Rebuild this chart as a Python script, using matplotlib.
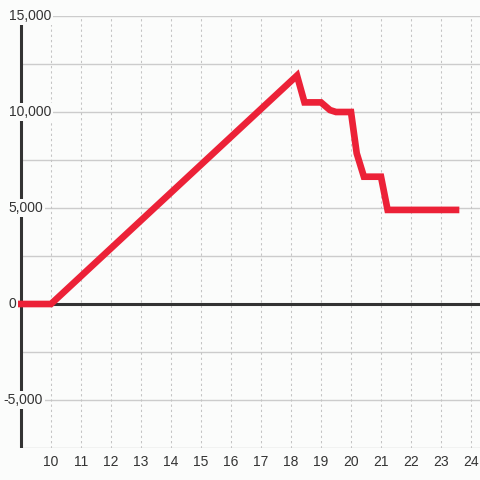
import matplotlib
matplotlib.use("Agg")
import matplotlib.pyplot as plt

# data
x_vals = [9.0, 10.0, 18.2, 18.45, 19.0, 19.3, 19.5, 20.0, 20.19, 20.43, 21.0, 21.22, 23.5]
y_vals = [0, 0, 11900, 10500, 10500, 10100, 10000, 10000, 7850, 6630, 6630, 4900, 4900]
x_ticks = list(range(10, 25))
y_grid = [-7500, -5000, -2500, 2500, 5000, 7500, 10000, 12500, 15000]
y_labels = [15000, 10000, 5000, 0, -5000]
y_label_right_px = [51, 51, 43, 16, 43]  # style: right edge of each label in pixels

BG = '#fbfcfb'
TXT = '#333333'
GRID = '#cccccc'
RED = '#ec2137'

plt.rcParams['font.family'] = ['Liberation Sans', 'DejaVu Sans']
fig = plt.figure(figsize=(4.8, 4.8), dpi=100, facecolor=BG)
ax = fig.add_axes([0, 32/480, 1, 432/480])
ax.set_facecolor(BG)
x_left, x_right = 8.3, 10 + 429/30
ax.set_xlim(x_left, x_right)
ax.set_ylim(-7500, 15000)
for s in ax.spines.values():
    s.set_visible(False)

# grid
ax.hlines(y_grid, 9.0, x_right, colors=GRID, lw=1, zorder=1)
ax.vlines(x_ticks, -7500, 15000, colors='#c4c4c4', lw=0.75, linestyles=(0, (2.2, 2.8)), zorder=1)
# zero line and left axis line
ax.hlines([0], 9.0, x_right, colors=TXT, lw=2.2, zorder=2)
ax.vlines([9.0], -7500, 15000, colors=TXT, lw=2.2, zorder=2)

# data line
ax.plot(x_vals, y_vals, color=RED, lw=4.8, solid_joinstyle='miter',
        solid_capstyle='projecting', zorder=3, clip_on=False)

# y labels
for val, rpx in zip(y_labels, y_label_right_px):
    xd = x_left + rpx / 30
    ax.text(xd, val, f"{val:,}", ha='right', va='center', fontsize=10, color=TXT,
            bbox=dict(facecolor=BG, edgecolor='none', pad=1.5), zorder=5)

ax.set_xticks(x_ticks)
ax.set_xticklabels([str(t) for t in x_ticks])
ax.tick_params(axis='x', length=0, pad=5, labelsize=10, labelcolor=TXT)
ax.set_yticks([])

fig.savefig('out.png', dpi=100, facecolor=BG)
